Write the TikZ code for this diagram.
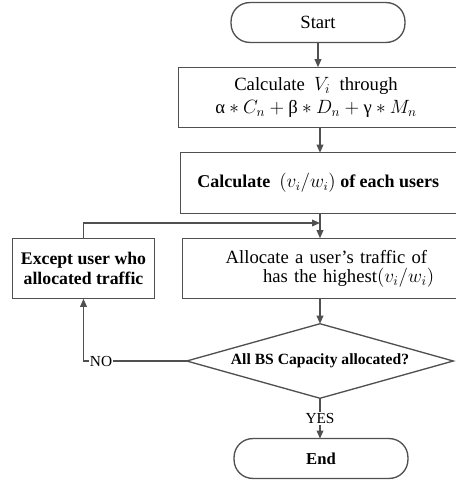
\documentclass[tikz,border=0pt]{standalone}
\usepackage{amsmath,amssymb}
\usepackage{fontspec}
\setmainfont{Liberation Serif}
\usetikzlibrary{shapes.geometric,arrows.meta}

\tikzset{
	flowline/.style={draw={rgb, 255:red, 80; green, 80; blue, 80 }, line width=1pt},
	flowarrow/.style={flowline, -{Triangle[length=6pt,width=5pt]}},
	terminal/.style={rectangle, rounded corners=14pt, minimum width=130pt, minimum height=29.5pt, inner sep=0pt},
	procbox/.style={rectangle, minimum height=45pt, inner sep=0pt},
	decision/.style={diamond, aspect=3.6, minimum width=199.5pt, minimum height=55.5pt, inner sep=0pt},
	edgelabel/.style={fill=white, inner sep=1pt, font=\fontsize{11.5}{13}\selectfont}
}

\begin{document}
\begin{tikzpicture}[x=0.75pt,y=0.75pt,yscale=-1,xscale=1]
	\useasboundingbox (0,0) rectangle (456,481);
	
	% Text Node
	\node (start) [terminal, font=\fontsize{14}{16}\selectfont] at (318,22.5) {Start};
	% Text Node
	\node (calcv) [procbox, minimum width=214.5pt, align=center, font=\fontsize{14}{17}\selectfont] at (322,97.5)
		{\hspace*{-9pt}Calculate \ $V_i$ \ through\\ \hspace*{-9pt}α${}*C_n+{}$β${}*D_n+{}$γ${}*M_n$};
	% Text Node
	\node (ratio) [procbox, minimum width=213pt, font=\bfseries\fontsize{13.5}{16}\selectfont] at (323,183)
		{\hspace*{-7pt}Calculate \ $(v_i/w_i)$ of each users};
	% Text Node
	\node (alloc) [procbox, minimum width=211.5pt, text width=211.5pt, align=left, font=\fontsize{14}{14.5}\selectfont] at (324,268.5)
		{\hspace*{32pt}Allocate a user's traffic of\\ \hspace*{60pt}has the highest$(v_i/w_i)$};
	% Text Node
	\node (except) [procbox, minimum width=105.75pt, align=center, font=\bfseries\fontsize{13.3}{14.5}\selectfont] at (83.5,268.5)
		{Except user who\\ allocated traffic};
	% Text Node
	\node (check) [decision, font=\bfseries\fontsize{11.7}{14}\selectfont] at (320,361) {All BS Capacity allocated?};
	% Text Node
	\node (end) [terminal, font=\bfseries\fontsize{12.5}{15}\selectfont] at (321,458.5) {End};
	
	%Shape: Rounded Rectangles
	\draw [flowline, rounded corners=14pt] (start.north west) rectangle (start.south east);
	\draw [flowline, rounded corners=14pt] (end.north west) rectangle (end.south east);
	%Shape: Rectangles
	\draw [flowline] (calcv.north west) rectangle (calcv.south east);
	\draw [flowline] (ratio.north west) rectangle (ratio.south east);
	\draw [flowline] (alloc.north west) rectangle (alloc.south east);
	\draw [flowline] (except.north west) rectangle (except.south east);
	%Shape: Diamond
	\draw [flowline] (check.north) -- (check.east) -- (check.south) -- (check.west) -- cycle;
	
	\coordinate (merge) at (320,223);
	
	%Straight Lines
	\draw [flowarrow] (start.south) -- (start.south |- calcv.north);
	\draw [flowarrow] (calcv.south -| 320,0) -- (320,0 |- ratio.north);
	\draw [flowarrow] (ratio.south -| 320,0) -- (320,0 |- alloc.north);
	\draw [flowarrow] (except.north) |- (merge);
	\draw [flowarrow] (alloc.south -| check.north) -- (check.north);
	\draw [flowarrow] (check.west) -| node [edgelabel, pos=0.415] {NO} (except.south);
	\draw [flowarrow] (check.south) -- node [edgelabel] {YES} (check.south |- end.north);
\end{tikzpicture}
\end{document}
